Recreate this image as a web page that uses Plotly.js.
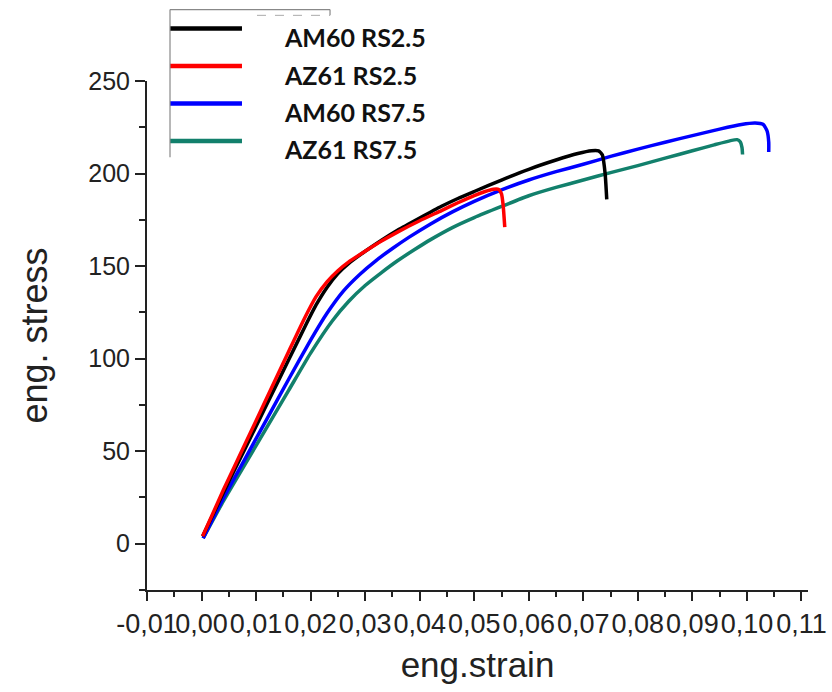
<!DOCTYPE html>
<html>
<head>
<meta charset="utf-8">
<script src="https://cdn.plot.ly/plotly-3.0.1.min.js"></script>
<style>
  html, body { margin: 0; padding: 0; background: #ffffff; }
  #chart { width: 832px; height: 692px; }
</style>
</head>
<body>
<div id="chart"></div>
<script>
// ---- data ----
const seriesNames = ["AM60 RS2.5", "AZ61 RS2.5", "AM60 RS7.5", "AZ61 RS7.5"];
const seriesColors = ["#000000", "#ff0000", "#0000ff", "#12806c"];

const am60rs25Strain = [0.0002, 0.004, 0.008, 0.012, 0.016, 0.019, 0.021, 0.023, 0.025, 0.027, 0.030, 0.033, 0.036, 0.040, 0.044, 0.047, 0.050, 0.055, 0.060, 0.065, 0.069, 0.0715, 0.0728, 0.0735, 0.0740, 0.0743];
const am60rs25Stress = [4, 27.5, 51.5, 75.5, 99.5, 117.5, 129, 138.5, 146, 151.5, 158, 164, 169.5, 176, 182.3, 186.5, 190.3, 196.5, 202.3, 207.3, 210.8, 212.3, 212.2, 210, 200, 186];

const az61rs25Strain = [0.0002, 0.004, 0.008, 0.012, 0.016, 0.019, 0.021, 0.023, 0.025, 0.027, 0.030, 0.033, 0.036, 0.040, 0.044, 0.047, 0.050, 0.052, 0.0535, 0.0545, 0.0550, 0.0553, 0.0556];
const az61rs25Stress = [4, 29, 54, 79, 104, 122.5, 133.5, 141.5, 147.5, 152.3, 158, 163.5, 168.5, 174.5, 180, 184.2, 188.1, 190.3, 191.5, 191.4, 189, 183, 171];

const am60rs75Strain = [0.0003, 0.004, 0.008, 0.012, 0.016, 0.020, 0.023, 0.026, 0.029, 0.032, 0.035, 0.038, 0.042, 0.046, 0.050, 0.055, 0.060, 0.065, 0.070, 0.075, 0.080, 0.085, 0.090, 0.095, 0.099, 0.1015, 0.1030, 0.1037, 0.1040, 0.1040];
const am60rs75Stress = [3, 24.5, 46, 67.5, 89, 110, 124.5, 136.5, 145.5, 153, 159.5, 165.5, 172.8, 179.3, 185, 191.2, 196.5, 201, 205, 209.3, 213.2, 216.9, 220.5, 224, 226.5, 227.3, 226.5, 223, 217, 211.6];

const az61rs75Strain = [0.0003, 0.004, 0.008, 0.012, 0.016, 0.020, 0.024, 0.027, 0.030, 0.033, 0.036, 0.039, 0.042, 0.046, 0.050, 0.055, 0.060, 0.065, 0.070, 0.075, 0.080, 0.085, 0.090, 0.094, 0.0970, 0.0982, 0.0988, 0.0991, 0.0992];
const az61rs75Stress = [3, 23, 43, 63, 83, 103, 120.5, 131, 139.5, 146.5, 153, 158.8, 164.3, 170.8, 176.2, 182.2, 188, 192.5, 196.5, 200.5, 204.3, 208.3, 212.3, 215.5, 217.8, 218.3, 217, 214, 210.3];

const xTickVals = [-0.01, 0.00, 0.01, 0.02, 0.03, 0.04, 0.05, 0.06, 0.07, 0.08, 0.09, 0.10, 0.11];
const xTickText = ["-0,01", "0,00", "0,01", "0,02", "0,03", "0,04", "0,05", "0,06", "0,07", "0,08", "0,09", "0,10", "0,11"];
const yTickVals = [0, 50, 100, 150, 200, 250];
const yTickText = ["0", "50", "100", "150", "200", "250"];

// ---- traces ----
const xs = [am60rs25Strain, az61rs25Strain, am60rs75Strain, az61rs75Strain];
const ys = [am60rs25Stress, az61rs25Stress, am60rs75Stress, az61rs75Stress];
const order = [3, 2, 0, 1];
const traces = order.map(i => ({
  type: "scatter",
  mode: "lines",
  x: xs[i],
  y: ys[i],
  name: seriesNames[i],
  line: { color: seriesColors[i], width: 3.5, shape: "spline", smoothing: 0.5 },
  showlegend: false,
  hoverinfo: "skip"
}));

// ---- Origin-style legend ----
const legLineY = [1.103, 1.0295, 0.9556, 0.8821];
const legTextY = [1.0865, 1.0112, 0.9391, 0.8658];
const shapes = [];
const annotations = [];
seriesNames.forEach((nm, i) => {
  shapes.push({ type: "line", xref: "paper", yref: "paper", x0: 0.0348, x1: 0.1437,
    y0: legLineY[i], y1: legLineY[i], line: { color: seriesColors[i], width: 4.5 } });
  annotations.push({ xref: "paper", yref: "paper", x: 0.2045, y: legTextY[i],
    xanchor: "left", yanchor: "middle", showarrow: false, text: "<b>" + nm + "</b>",
    font: { family: "Lato, 'Liberation Sans', Arial, sans-serif", size: 25, color: "#111111" } });
});
shapes.push({ type: "line", xref: "paper", yref: "paper", x0: 0.0348, x1: 0.2769, y0: 1.1403, y1: 1.1403, line: { color: "#888888", width: 1.2 } });
shapes.push({ type: "line", xref: "paper", yref: "paper", x0: 0.0348, x1: 0.0348, y0: 1.1403, y1: 0.850, line: { color: "#888888", width: 1.2 } });
shapes.push({ type: "line", xref: "paper", yref: "paper", x0: 0.2769, x1: 0.2769, y0: 1.1403, y1: 1.129, line: { color: "#888888", width: 1.2 } });
shapes.push({ type: "line", xref: "paper", yref: "paper", x0: 0.1664, x1: 0.2769, y0: 1.129, y1: 1.129, line: { color: "#aaaaaa", width: 1, dash: "dash" } });

const layout = {
  width: 832,
  height: 692,
  margin: { l: 147, r: 24, t: 81, b: 102, pad: 0 },
  paper_bgcolor: "#ffffff",
  plot_bgcolor: "#ffffff",
  font: { family: "'Liberation Sans', Arial, sans-serif", color: "#222222" },
  xaxis: {
    range: [-0.01, 0.1112],
    tickmode: "array",
    tickvals: xTickVals,
    ticktext: xTickText,
    tickangle: 0,
    ticks: "outside",
    ticklen: 9,
    tickwidth: 2,
    tickcolor: "#222222",
    minor: { ticks: "outside", dtick: 0.005, tick0: 0.005, ticklen: 5, tickwidth: 2, tickcolor: "#222222", showgrid: false },
    showline: true,
    linecolor: "#222222",
    linewidth: 2,
    showgrid: false,
    zeroline: false,
    tickfont: { size: 27, color: "#222222" },
    title: { text: "eng.strain", font: { size: 35, color: "#222222" }, standoff: 14 }
  },
  yaxis: {
    range: [-25, 250],
    tickmode: "array",
    tickvals: yTickVals,
    ticktext: yTickText,
    ticks: "outside",
    ticklen: 10,
    tickwidth: 2,
    tickcolor: "#222222",
    minor: { ticks: "outside", dtick: 25, tick0: 25, ticklen: 6, tickwidth: 2, tickcolor: "#222222", showgrid: false },
    showline: true,
    linecolor: "#222222",
    linewidth: 2,
    showgrid: false,
    zeroline: false,
    tickfont: { size: 25, color: "#222222" },
    title: { text: "eng. stress", font: { size: 36, color: "#222222" }, standoff: 30 }
  },
  shapes: shapes,
  annotations: annotations,
  showlegend: false
};

Plotly.newPlot("chart", traces, layout, { displayModeBar: false, staticPlot: true });
</script>
</body>
</html>
